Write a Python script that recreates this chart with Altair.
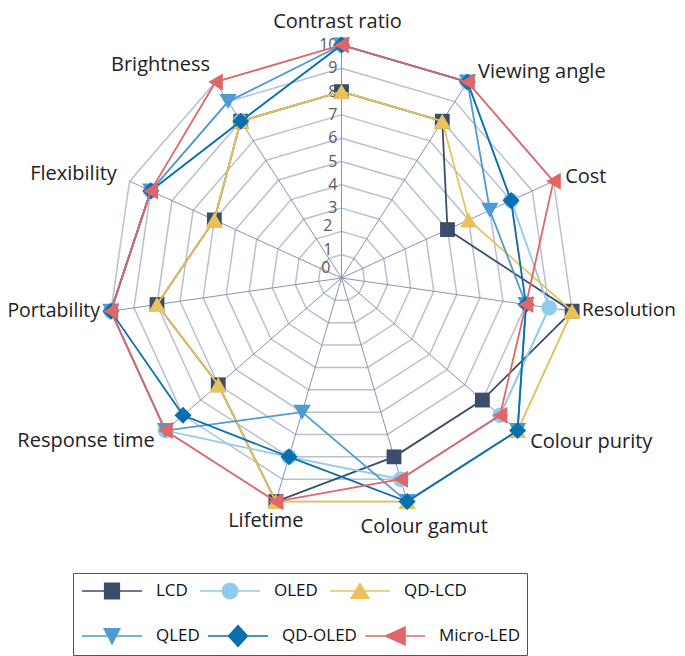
import altair as alt
import pandas as pd

# ---------------- data ----------------
AXES = ["Contrast ratio", "Viewing angle", "Cost", "Resolution", "Colour purity",
        "Colour gamut", "Lifetime", "Response time", "Portability", "Flexibility",
        "Brightness"]
SERIES = ["LCD", "OLED", "QD-LCD", "QLED", "QD-OLED", "Micro-LED"]
LCD = [8, 8, 5, 10, 8, 8, 10, 7, 8, 6, 8]
OLED = [10, 10, 8, 9, 9, 9, 8, 10, 10, 9, 8]
QD_LCD = [8, 8, 6, 10, 10, 10, 10, 7, 8, 6, 8]
QLED = [10, 10, 7, 8, 10, 10, 6, 10, 10, 9, 9]
QD_OLED = [10, 10, 8, 8, 10, 10, 8, 9, 10, 9, 8]
MICRO_LED = [10, 10, 10, 8, 9, 9, 10, 10, 10, 9, 10]
VALUES = {"LCD": LCD, "OLED": OLED, "QD-LCD": QD_LCD, "QLED": QLED,
          "QD-OLED": QD_OLED, "Micro-LED": MICRO_LED}
TICKS = list(range(0, 11))
RINGS = list(range(1, 11))
LEGEND_ROW1 = SERIES[:3]
LEGEND_ROW2 = SERIES[3:]

# ---------------- styles ----------------
COLORS = {"LCD": "#3b4d6b", "OLED": "#8ecbee", "QD-LCD": "#e9c35a",
          "QLED": "#4e9bd1", "QD-OLED": "#0b6fae", "Micro-LED": "#e06767"}
SHAPES = {"LCD": "square", "OLED": "circle", "QD-LCD": "triangle-up",
          "QLED": "triangle-down", "QD-OLED": "diamond", "Micro-LED": "triangle-left"}
SIZES = {"LCD": 220, "OLED": 240, "QD-LCD": 300, "QLED": 300,
         "QD-OLED": 290, "Micro-LED": 290}
LINE = "M-1,-0.028H1V0.028H-1Z"
LEGEND_PATHS = {
    "LCD": LINE + "M-0.27,-0.28H0.27V0.28H-0.27Z",
    "OLED": LINE + "M-0.28,0A0.28,0.28 0 1,1 0.28,0A0.28,0.28 0 1,1 -0.28,0Z",
    "QD-LCD": LINE + "M0,-0.3L0.34,0.27L-0.34,0.27Z",
    "QLED": LINE + "M0,0.32L-0.3,-0.27L0.3,-0.27Z",
    "QD-OLED": LINE + "M-0.35,0L0,-0.38L0.35,0L0,0.38Z",
    "Micro-LED": LINE + "M-0.38,0L0.36,-0.33L0.36,0.33Z",
}
FONT = "Open Sans"
# label layout: radius, align, baseline, dx, dy (pixels), font size
LABEL_LAYOUT = {
    "Contrast ratio": (None, "center", "top", -4, 4, 20),
    "Viewing angle": (10.6, "left", "middle", 3, 2, 20),
    "Cost": (10.6, "left", "middle", -1, 1.5, 20),
    "Resolution": (10.6, "left", "middle", -4, -3, 19),
    "Colour purity": (10.6, "left", "middle", 2, 2, 20),
    "Colour gamut": (10.0, "center", "middle", 17, 25, 20),
    "Lifetime": (10.0, "center", "middle", -10, 19, 20),
    "Response time": (10.6, "right", "middle", 0, 1, 20),
    "Portability": (10.6, "right", "middle", 3, -2, 19.5),
    "Flexibility": (10.6, "right", "middle", 0, -1, 20),
    "Brightness": (10.6, "right", "middle", 2, -5, 20),
}
# tick label nudges: (filter, dx, dy)
TICK_NUDGES = [("datum.level >= 3", -4, 0),
               ("datum.level >= 1 && datum.level < 3", -9, -5),
               ("datum.level < 1", -11, -10)]

N = len(AXES)
U = 23.3
W, H = 669, 648
CX, CY = 333.5, 270
XS = alt.Scale(domain=[-CX / U, (W - CX) / U], nice=False, zero=False)
YS = alt.Scale(domain=[-(H - CY) / U, CY / U], nice=False, zero=False)
ANG = f"2*PI*datum.k/{N}"


def X(f):
    return alt.X(f"{f}:Q", scale=XS, axis=None)


def Y(f):
    return alt.Y(f"{f}:Q", scale=YS, axis=None)


# rings
rings_df = pd.DataFrame([{"level": r, "k": k} for r in RINGS for k in range(N + 1)])
rings = alt.Chart(rings_df).transform_calculate(
    x=f"datum.level*sin({ANG})", y=f"datum.level*cos({ANG})"
).mark_line(color="#b8bfd2", strokeWidth=1.5).encode(
    x=X("x"), y=Y("y"), detail="level:N", order="k:Q")

# spokes
spokes_df = pd.DataFrame({"k": list(range(N))})
spokes = alt.Chart(spokes_df).transform_calculate(
    x0="0", y0="0",
    x1=f"{max(TICKS)}*sin({ANG})", y1=f"{max(TICKS)}*cos({ANG})"
).mark_rule(color="#8a93ab", strokeWidth=1).encode(
    x=X("x0"), y=Y("y0"), x2="x1:Q", y2="y1:Q")

layers = [rings, spokes]

# tick labels
ticks_df = pd.DataFrame({"level": TICKS})
tick_base = alt.Chart(ticks_df).transform_calculate(zero="0")
for flt, tdx, tdy in TICK_NUDGES:
    layers.append(tick_base.transform_filter(flt).mark_text(
        align="right", baseline="middle", dx=tdx, dy=tdy, font=FONT, fontSize=16,
        color="#5a5a5a").encode(x=X("zero"), y=Y("level"), text="level:N"))

# series
for s in SERIES:
    vals = VALUES[s]
    df = pd.DataFrame({"k": list(range(N + 1)),
                       "value": [vals[k % N] for k in range(N + 1)]})
    base = alt.Chart(df).transform_calculate(
        x=f"datum.value*sin({ANG})", y=f"datum.value*cos({ANG})")
    layers.append(base.mark_line(color=COLORS[s], strokeWidth=1.8).encode(
        x=X("x"), y=Y("y"), order="k:Q"))
    layers.append(base.transform_filter(f"datum.k < {N}").mark_point(
        filled=True, opacity=1, shape=SHAPES[s], size=SIZES[s],
        color=COLORS[s]).encode(x=X("x"), y=Y("y")))

# axis labels
lab_df = pd.DataFrame({"k": list(range(N)), "name": AXES})
for name in AXES:
    r, al, bl, dx, dy, fs = LABEL_LAYOUT[name]
    if r is None:
        r = CY / U
    layers.append(alt.Chart(lab_df).transform_filter(
        alt.datum.name == name).transform_calculate(
        x=f"{r}*sin({ANG})", y=f"{r}*cos({ANG})").mark_text(
        align=al, baseline=bl, dx=dx, dy=dy, font=FONT, fontSize=fs,
        color="#222222").encode(x=X("x"), y=Y("y"), text="name:N"))


# legends (two rows, the second one carries the frame)
def legend(row, ly, framed, colpad):
    kw = dict(orient="none", legendX=65, legendY=ly, direction="horizontal",
              padding=6, symbolSize=3600, symbolStrokeWidth=0, clipHeight=26,
              columnPadding=colpad, labelOffset=14, symbolOffset=3, labelFont=FONT,
              labelFontSize=17, labelColor="#111111")
    if framed:
        kw.update(title="\u00a0", titleOrient="top", titleFontSize=36,
                  titlePadding=8, strokeColor="#555555")
    else:
        kw.update(title=None)
    leg = alt.Legend(**kw)
    df = pd.DataFrame({"series": row})
    return alt.Chart(df).transform_filter("false").mark_point(
        filled=True, opacity=1).encode(
        color=alt.Color("series:N", scale=alt.Scale(domain=row, range=[COLORS[s] for s in row]), legend=leg),
        shape=alt.Shape("series:N", scale=alt.Scale(domain=row, range=[LEGEND_PATHS[s] for s in row]), legend=leg),
    )


layers.append(legend(LEGEND_ROW2, 565, True, 5))
layers.append(legend(LEGEND_ROW1, 564, False, 9))

chart = alt.layer(*layers).resolve_scale(color="independent", shape="independent").properties(
    width=W, height=H, padding=0, autosize=alt.AutoSizeParams(type="none")
).configure_view(stroke=None)
chart.save("out.html", embed_options={"renderer": "svg", "actions": False})
